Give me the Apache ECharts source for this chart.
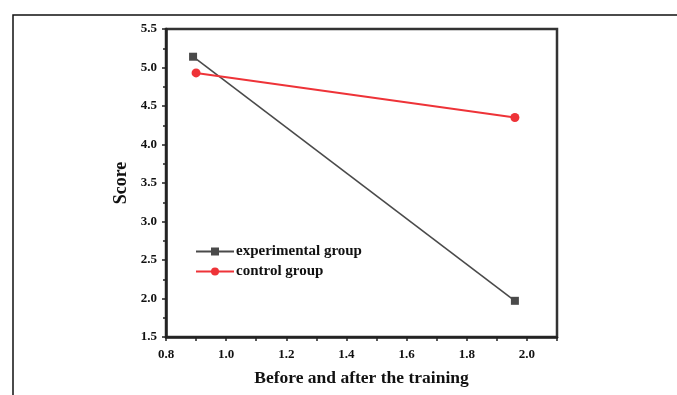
<!DOCTYPE html>
<html><head><meta charset="utf-8">
<script src="https://cdn.jsdelivr.net/npm/echarts@6/dist/echarts.min.js"></script>
<style>html,body{margin:0;padding:0;background:#fff}#c{width:677px;height:395px}</style>
</head><body><div id="c"></div>
<script>
const seriesNames = ['experimental group', 'control group'];
const experimentalX = [0.89, 1.96];
const experimentalY = [5.14, 1.97];
const controlX = [0.90, 1.96];
const controlY = [4.93, 4.35];
const xTitle = 'Before and after the training';
const yTitle = 'Score';

const pairs = (xs, ys) => xs.map((x, i) => [x, ys[i]]);
const font = '"Liberation Serif", "Times New Roman", serif';
const chart = echarts.init(document.getElementById('c'));
chart.setOption({
  animation: false,
  backgroundColor: '#fff',
  graphic: [{
    type: 'rect', shape: {x: 13, y: 15, width: 700, height: 420},
    style: {fill: 'none', stroke: '#111', lineWidth: 1.5}, silent: true, z: -1
  }],
  grid: {left: 166, right: 120, top: 29, bottom: 58, show: true, borderColor: '#333', borderWidth: 2.5, backgroundColor: 'transparent'},
  legend: {
    left: 190, top: 239, orient: 'vertical', itemWidth: 38, itemHeight: 10, itemGap: 5,
    textStyle: {fontFamily: font, fontWeight: 'bold', fontSize: 15, color: '#111', padding: [0, 0, 0, -3]},
    data: seriesNames
  },
  xAxis: {
    type: 'value', min: 0.8, max: 2.1, interval: 0.2,
    name: xTitle, nameLocation: 'middle', nameGap: 32,
    nameTextStyle: {fontFamily: font, fontWeight: 'bold', fontSize: 17.5, color: '#111'},
    axisLine: {lineStyle: {color: '#222', width: 2.5}},
    axisTick: {show: true, length: 4, lineStyle: {color: '#222', width: 1.5}},
    minorTick: {show: true, splitNumber: 2, length: 4, lineStyle: {color: '#222', width: 1.5}},
    splitLine: {show: false},
    axisLabel: {showMaxLabel: false, margin: 11, fontFamily: font, fontWeight: 'bold', fontSize: 13, color: '#111',
      formatter: v => v.toFixed(1)}
  },
  yAxis: {
    type: 'value', min: 1.5, max: 5.5, interval: 0.5,
    name: yTitle, nameLocation: 'middle', nameGap: 36,
    nameTextStyle: {fontFamily: font, fontWeight: 'bold', fontSize: 18, color: '#111'},
    axisLine: {show: true, lineStyle: {color: '#222', width: 2.5}},
    axisTick: {show: true, length: 4, lineStyle: {color: '#222', width: 1.5}},
    minorTick: {show: true, splitNumber: 2, length: 3, lineStyle: {color: '#222', width: 1.5}},
    splitLine: {show: false},
    axisLabel: {margin: 9, fontFamily: font, fontWeight: 'bold', fontSize: 13, color: '#111',
      formatter: v => v.toFixed(1)}
  },
  series: [
    {name: seriesNames[0], type: 'line', data: pairs(experimentalX, experimentalY),
     symbol: 'rect', symbolSize: 8, color: '#4a4a4a',
     lineStyle: {width: 1.6, color: '#4a4a4a'}, itemStyle: {color: '#4a4a4a'}},
    {name: seriesNames[1], type: 'line', data: pairs(controlX, controlY),
     symbol: 'circle', symbolSize: 9, color: '#ee3338',
     lineStyle: {width: 2, color: '#ee3338'}, itemStyle: {color: '#ee3338'}}
  ]
});
</script></body></html>
